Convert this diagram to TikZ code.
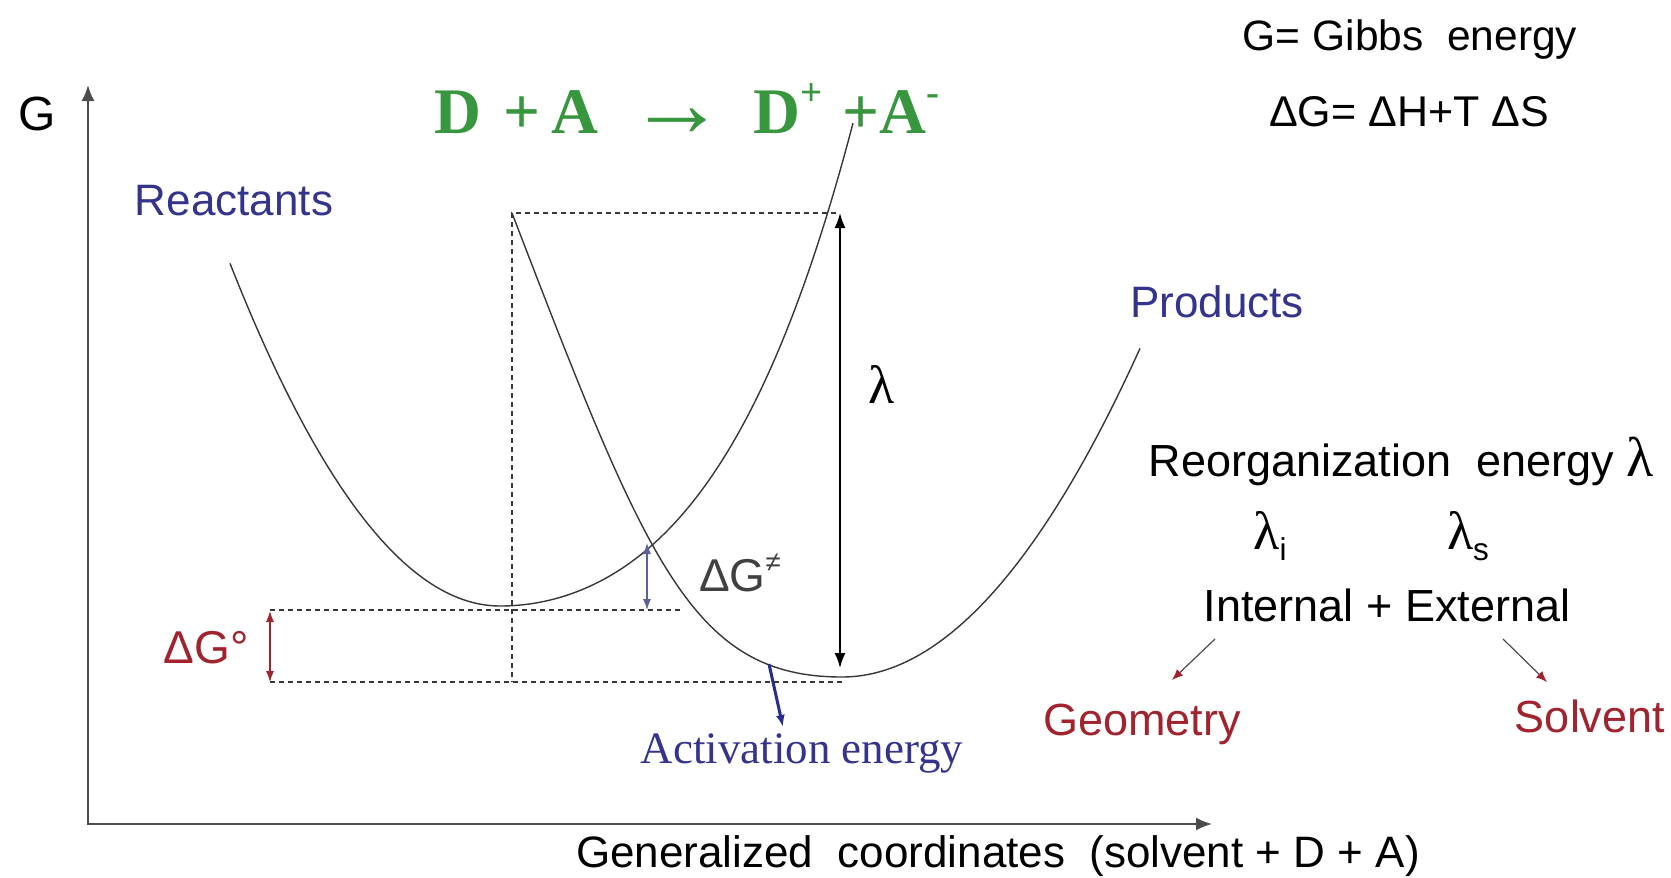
\documentclass[tikz,border=0pt]{standalone}
\usepackage{fontspec}
\usepackage{graphicx}
\setmainfont{Liberation Sans}
\newfontfamily\serifA{Liberation Serif}
\usetikzlibrary{arrows.meta}
\definecolor{eqgreen}{RGB}{56,150,62}
\definecolor{navyA}{RGB}{52,52,140}
\definecolor{navyB}{RGB}{40,44,140}
\definecolor{navyC}{RGB}{95,95,155}
\definecolor{dredA}{RGB}{160,35,45}
\definecolor{curvegray}{RGB}{55,55,55}
\newcommand{\supA}[1]{\raisebox{0.42em}{\scalebox{0.6}{#1}}}
\newcommand{\subA}[1]{\raisebox{-0.25em}{\scalebox{0.7}{#1}}}
\begin{document}
\begin{tikzpicture}[x=1pt,y=-1pt,
  txt/.style={inner sep=0pt, anchor=base},
  curve/.style={draw=curvegray, line width=1.4pt},
  dashln/.style={draw=curvegray, line width=1.4pt, dash pattern=on 5pt off 4pt},
  axis/.style={draw=black!70, line width=2pt, {Latex[length=16pt,width=13pt]}-{Latex[length=16pt,width=13pt]}},
  dbl/.style={line width=1.6pt, {Latex[length=15pt,width=11pt]}-{Latex[length=15pt,width=11pt]}},
  smalldbl/.style={line width=1.2pt, {Latex[length=11pt,width=8pt]}-{Latex[length=11pt,width=8pt]}}]
\useasboundingbox (0,0) rectangle (1671,878);
% axes
\coordinate (ytip) at (88,85);
\coordinate (corner) at (88,824);
\coordinate (xtip) at (1212,824);
\draw[axis] (ytip) -- (corner) -- (xtip);
\node[txt, font={\fontsize{48}{50}\selectfont}] (G) at (37,130) {G};
% title texts
\node[txt, text=eqgreen, font={\serifA\bfseries\fontsize{65}{68}\selectfont}] (eq) at (687,133)
  {D\hspace{22pt}+\hspace{11pt}A\hspace{30pt}\raisebox{-0.06em}{\scalebox{1.5}{\mdseries →}}\hspace{28pt}D\supA{+}\hspace{20pt}+A\supA{-}};
\node[txt, font={\fontsize{42.5}{44}\selectfont}] (gibbs) at (1410,50) {G= Gibbs \ energy};
\node[txt, font={\fontsize{43}{44}\selectfont}] (dg) at (1409,126) {ΔG= ΔH+T ΔS};
% reactant curve
\draw[curve] plot[domain=230:500, samples=60] (\x, {606-47*((\x-500)/100)^2})
  -- plot[domain=500:853, samples=80] (\x, {606-23.46*((\x-500)/100)^2-1.227*((\x-500)/100)^4});
% product curve
\draw[curve] (512,213) .. controls (647,564) and (692,677) .. (842,677)
  -- plot[domain=842:1140, samples=70] (\x, {677-37*((\x-842)/100)^2});
% dashed guides
\coordinate (tl) at (512,213);
\coordinate (tr) at (836,213);
\coordinate (bl) at (512,682);
\coordinate (ua) at (270,610);
\coordinate (ub) at (682,610);
\coordinate (la) at (270,682);
\coordinate (lb) at (842,682);
\draw[dashln] (tr) -- (tl) -- (bl);
\draw[dashln] (ua) -- (ub);
\draw[dashln] (la) -- (lb);
% lambda arrow
\coordinate (lamtop) at (840,213);
\coordinate (lambot) at (840,668);
\draw[dbl, black] (lamtop) -- (lambot);
\node[txt, font={\serifA\fontsize{54}{56}\selectfont}] (lam) at (882,403) {λ};
% Delta G0
\coordinate (g0a) at (270,611);
\coordinate (g0b) at (270,682);
\draw[smalldbl, dredA] (g0a) -- (g0b);
\node[txt, text=dredA, font={\fontsize{46}{48}\selectfont}] (dg0) at (206,663) {ΔG°};
% Delta G activation
\coordinate (gaa) at (647,543);
\coordinate (gab) at (647,610);
\draw[smalldbl, navyC] (gaa) -- (gab);
\node[txt, text=black!75, font={\fontsize{46}{48}\selectfont}] (dgact) at (740,591) {ΔG\supA{≠}};
\coordinate (acta) at (769,664);
\coordinate (actb) at (783,727);
\draw[navyB, line width=3pt, -{Latex[length=12pt,width=9pt]}] (acta) -- (actb);
\node[txt, text=navyA, font={\serifA\fontsize{45}{48}\selectfont}] (act) at (802,763) {Activation energy};
% curve labels
\node[txt, text=navyA, font={\fontsize{44}{46}\selectfont}] (react) at (234,215) {Reactants};
\node[txt, text=navyA, font={\fontsize{44}{46}\selectfont}] (prod) at (1217,317) {Products};
% reorganization
\node[txt, font={\fontsize{45}{48}\selectfont}] (reorg) at (1401,476) {Reorganization \ energy {\serifA\fontsize{56}{56}\selectfont λ}};
\node[txt, font={\fontsize{45}{48}\selectfont}] (li) at (1270,549) {{\serifA\fontsize{54}{54}\selectfont λ}\subA{i}};
\node[txt, font={\fontsize{45}{48}\selectfont}] (ls) at (1468,549) {{\serifA\fontsize{54}{54}\selectfont λ}\subA{s}};
\node[txt, font={\fontsize{45}{48}\selectfont}] (ie) at (1387,621) {Internal + External};
\node[txt, text=dredA, font={\fontsize{45}{48}\selectfont}] (geo) at (1142,735) {Geometry};
\node[txt, text=dredA, font={\fontsize{45}{48}\selectfont}] (solv) at (1590,732) {Solvent};
\coordinate (ga) at (1215,639);
\coordinate (gb) at (1172,680);
\coordinate (sa) at (1503,639);
\coordinate (sb) at (1547,682);
\draw[black!70, line width=1.2pt, -{Latex[length=11pt,width=9pt, color=dredA]}] (ga) -- (gb);
\draw[black!70, line width=1.2pt, -{Latex[length=11pt,width=9pt, color=dredA]}] (sa) -- (sb);
% x label
\node[txt, font={\fontsize{44}{46}\selectfont}] (xlab) at (998,867) {Generalized \ coordinates \ (solvent + D + A)};
\end{tikzpicture}
\end{document}
